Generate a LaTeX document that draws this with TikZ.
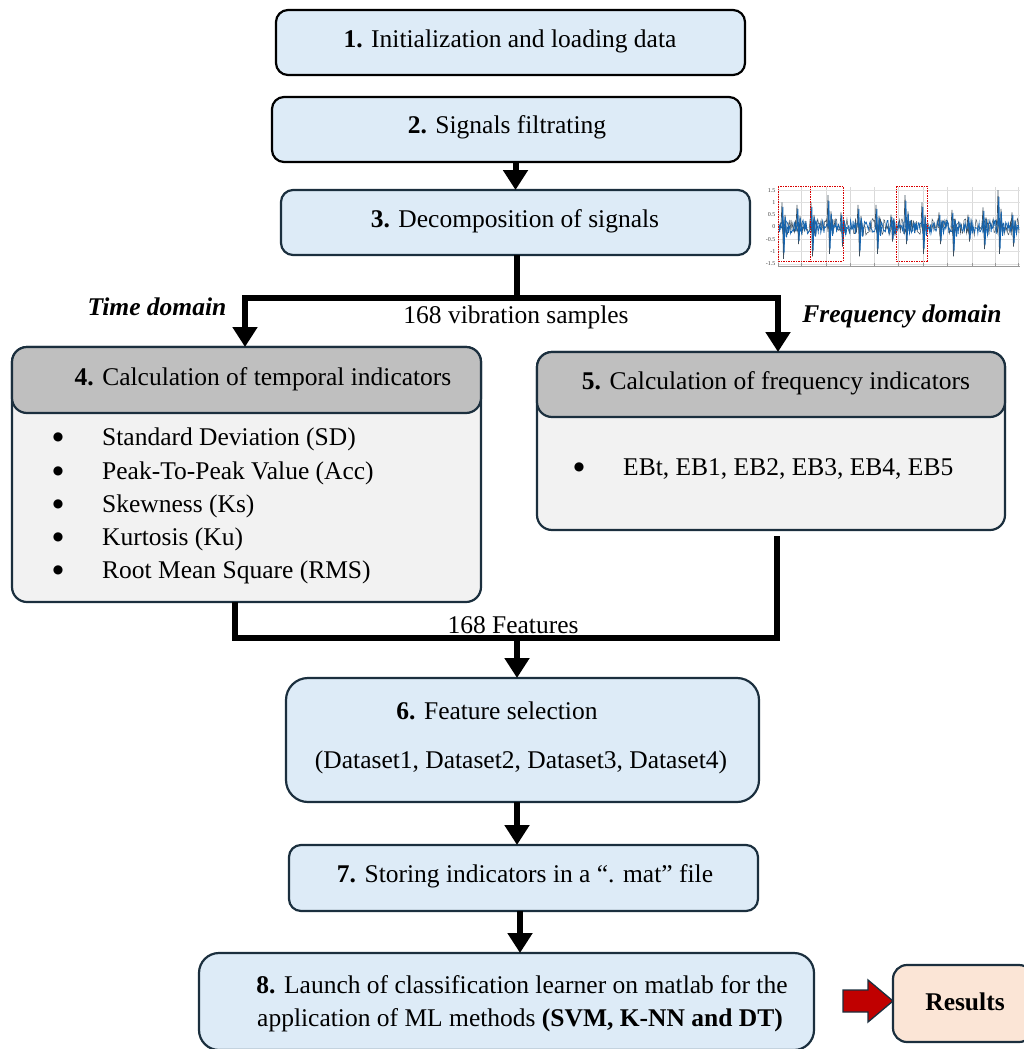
\documentclass[tikz,border=0pt]{standalone}
\usepackage{fontspec}
\setmainfont{Liberation Serif}
\newfontfamily\dejavu{DejaVu Sans}
\usetikzlibrary{arrows.meta,calc}
\definecolor{boxblue}{HTML}{DDEBF7}
\definecolor{navy}{HTML}{1B2F3E}
\definecolor{hdrgray}{HTML}{BFBFBF}
\definecolor{bodygray}{HTML}{F2F2F2}
\definecolor{peach}{HTML}{FBE5D6}
\definecolor{darkred}{HTML}{C00000}
\definecolor{sigblue}{HTML}{1565B0}
\definecolor{siggray}{HTML}{3E4E5C}
\begin{document}
\begin{tikzpicture}[x=1pt,y=-1pt,
  font=\fontsize{25.5}{30}\selectfont,
  box/.style={draw=navy, line width=2.2pt, rounded corners=12pt, fill=boxblue,
              anchor=north west, inner sep=0pt, outer sep=0pt},
  txt/.style={anchor=base, inner sep=0pt},
  ltxt/.style={anchor=base west, inner sep=0pt},
  bul/.style={anchor=center, inner sep=0pt, font=\dejavu\fontsize{12}{12}\selectfont},
  conn/.style={line width=6pt, line cap=butt},
  arr/.style={line width=6pt, -{Triangle[width=24pt,length=20pt]}},
  tick/.style={font=\fontsize{6}{6}\selectfont, anchor=east, inner sep=0.5pt, text=black!75},
]
\useasboundingbox (0,0) rectangle (1024,1049);

% ---------- boxes ----------
\node[box, draw=black, minimum width=469pt, minimum height=65pt] (b1) at (276,10) {};
\node[box, draw=black, minimum width=469pt, minimum height=65pt] (b2) at (272,97) {};
\node[box, minimum width=469pt, minimum height=65pt] (b3) at (281,190) {};

\node[box, fill=bodygray, rounded corners=15pt, minimum width=469pt, minimum height=255pt] (b4) at (12,347) {};
\node[box, fill=hdrgray, rounded corners=15pt, minimum width=469pt, minimum height=66pt] (b4h) at (12,347) {};

\node[box, fill=bodygray, rounded corners=15pt, minimum width=468pt, minimum height=178pt] (b5) at (537,352) {};
\node[box, fill=hdrgray, rounded corners=15pt, minimum width=468pt, minimum height=65pt] (b5h) at (537,352) {};

\node[box, rounded corners=22pt, minimum width=473pt, minimum height=124pt] (b6) at (286,678) {};
\node[box, minimum width=469pt, minimum height=66pt] (b7) at (289,845) {};
\node[box, rounded corners=20pt, minimum width=615pt, minimum height=97pt] (b8) at (199,953) {};
\node[box, fill=peach, rounded corners=14pt, minimum width=140pt, minimum height=77pt] (res) at (893,965) {};

% ---------- texts ----------
\node[txt] (t1) at (510,48) {\textbf{1.} Initialization and loading data};
\node[txt] (t2) at (507,133) {\textbf{2.} Signals filtrating};
\node[txt] (t3) at (515,227) {\textbf{3.} Decomposition of signals};
\node[txt] (td) at (157,315) {\textbf{\textit{Time domain}}};
\node[txt] (vs) at (516,323) {168 vibration samples};
\node[txt] (fd) at (902,322) {\textbf{\textit{Frequency domain}}};

\node[txt] (t4) at (263,385) {\textbf{4.} Calculation of temporal indicators};
\foreach \yy/\lab [count=\i] in {445/Standard Deviation (SD),
                    479/Peak-To-Peak Value (Acc),
                    512/Skewness (Ks),
                    545/Kurtosis (Ku),
                    578/Root Mean Square (RMS)}{
  \node[bul] (b4bul\i) at (58,{\yy-8}) {●};
  \node[ltxt] (b4it\i) at (102,\yy) {\lab};
}

\node[txt] (t5) at (776,389) {\textbf{5.} Calculation of frequency indicators};
\node[bul] (b5bul) at (579,467) {●};
\node[ltxt] (b5it) at (623,475) {EBt, EB1, EB2, EB3, EB4, EB5};

\node[txt] (feat) at (513,633) {168 Features};
\node[txt] (t6a) at (497,719) {\textbf{6.} Feature selection};
\node[txt] (t6b) at (521,768) {(Dataset1, Dataset2, Dataset3, Dataset4)};
\node[txt] (t7) at (525,882) {\textbf{7.} Storing indicators in a “. mat” file};
\node[txt] (t8a) at (522,993) {\textbf{8.} Launch of classification learner on matlab for the};
\node[txt] (t8b) at (520,1026) {application of ML methods \textbf{(SVM, K-NN and DT)}};
\node[txt] (rt) at (965,1010) {\textbf{Results}};

% ---------- connectors ----------
\draw[arr] (b3.north |- b2.south) -- (b3.north);

\coordinate (j1) at (517,298);
\draw[conn] (j1 |- b3.south) -- (j1);
\draw[arr] (j1) -| ([xshift=-1.5pt]b4h.north);
\draw[arr] (j1) -| ([xshift=7pt]b5h.north);

\coordinate (j2) at (517,638);
\draw[conn] ([xshift=-11.5pt]b4.south) |- (j2);
\draw[conn] ([xshift=6pt,yshift=-6pt]b5.south) |- (j2);
\draw[arr] (j2) -- (j2 |- b6.north);

\draw[arr] (j2 |- b6.south) -- (j2 |- b7.north);
\draw[arr] ([xshift=-3.5pt]b7.south) -- ([xshift=-3.5pt]b7.south |- b8.north);

% red block arrow b8 -> res
\coordinate (ra) at (843,1001);
\draw[fill=darkred, draw=navy, line width=1.3pt, line join=miter]
  (ra) ++(0,-11) -- ++(25,0) -- ++(0,-10) -- ++(25,21) -- ++(-25,21)
  -- ++(0,-10) -- ++(-25,0) -- cycle;

% ---------- signal plot ----------
\begin{scope}
  \foreach \gx in {778,801,826,850,874,898,923,947,972,995,1018}
    \draw[black!15, line width=0.5pt] (\gx,187) -- (\gx,266);
  \foreach \v/\lab in {1.5/1.5,1/1,0.5/0.5,0/0,-0.5/-0.5,-1/-1,-1.5/-1.5}{
    \draw[black!12, line width=0.4pt] (778,{227-24.5*\v}) -- (1020,{227-24.5*\v});
    \node[tick] at (776,{227-24.5*\v}) {\lab};
  }
  \draw[black!40, line width=0.6pt] (778,266) -- (1020,266);
  \foreach \gx in {778,801,826,850,874,898,923,947,972,995,1018}
    \draw[black!40, line width=0.5pt] (\gx,266) -- (\gx,263);
  \pgfmathsetseed{11}
  \draw[siggray, line width=0.5pt] plot[domain=779:1019, samples=280] (\x,{227+8.5*rand});
  \draw[sigblue, line width=0.7pt] plot[domain=779:1019, samples=380] (\x,{227+7*rand});
  \foreach \sx/\u/\d in {782/1.0/1.3, 797/0.9/0.7, 811/1.0/1.2, 828/1.3/1.1, 841/0.6/0.8,
      858/0.9/1.2, 876/0.9/1.1, 891/0.5/0.6, 905/1.3/0.7, 922/1.0/1.1, 939/0.6/0.7,
      952/0.7/1.2, 968/0.5/0.6, 983/0.8/0.9, 998/1.5/1.1, 1012/0.6/0.8}{
    \draw[siggray, line width=0.7pt] ({\sx-1},227) -- ({\sx},{227-24.5*\u}) -- ({\sx+1.5},{227+24.5*\d}) -- ({\sx+3},{227-12*\u}) -- ({\sx+4},227);
    \draw[sigblue, line width=0.9pt] (\sx,227) -- ({\sx+0.8},{227-20*\u}) -- ({\sx+2},{227+20*\d}) -- ({\sx+3.2},{227-10*\u}) -- ({\sx+4.5},{227+8*\d}) -- ({\sx+5.5},227);
  }
  \foreach \rx/\rw in {778/32, 810/33, 896/31}
    \draw[red!85!black, line width=0.8pt, dash pattern=on 2pt off 1.2pt on 0.6pt off 1.2pt]
      (\rx,186) rectangle ({\rx+\rw},261);
\end{scope}
\end{tikzpicture}
\end{document}
